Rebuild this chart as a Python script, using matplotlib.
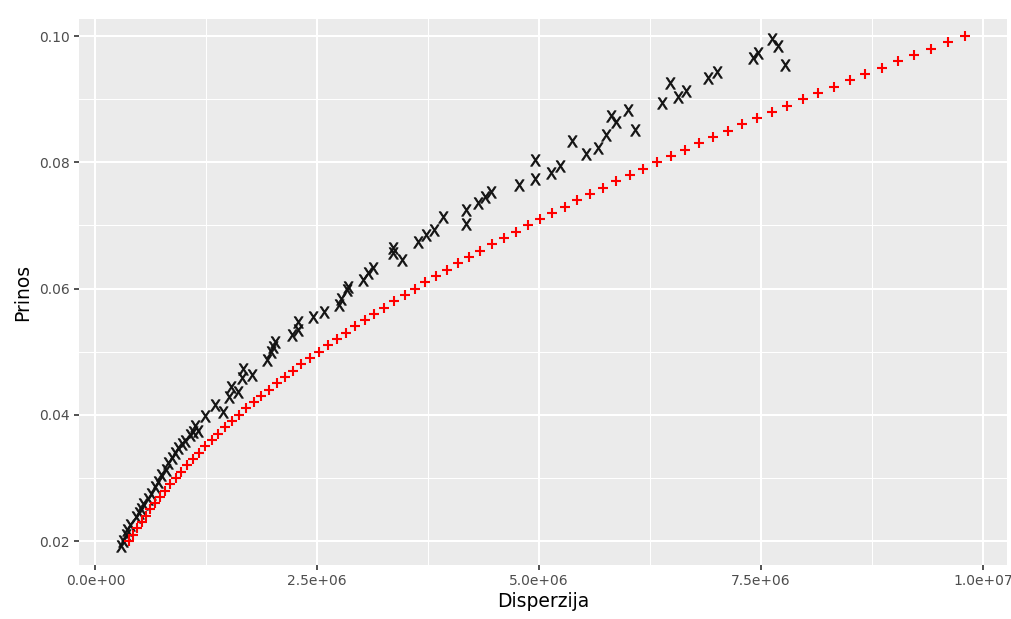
import matplotlib
matplotlib.use("Agg")
import matplotlib.pyplot as plt
import numpy as np
from matplotlib.ticker import FixedLocator

# ---- data (variance in millions, return) ----
# efficient frontier (red +)
frontier_ret = [0.020, 0.021, 0.022, 0.023, 0.024, 0.025, 0.026, 0.027, 0.028, 0.029,
                0.030, 0.031, 0.032, 0.033, 0.034, 0.035, 0.036, 0.037, 0.038, 0.039,
                0.040, 0.041, 0.042, 0.043, 0.044, 0.045, 0.046, 0.047, 0.048, 0.049,
                0.050, 0.051, 0.052, 0.053, 0.054, 0.055, 0.056, 0.057, 0.058, 0.059,
                0.060, 0.061, 0.062, 0.063, 0.064, 0.065, 0.066, 0.067, 0.068, 0.069,
                0.070, 0.071, 0.072, 0.073, 0.074, 0.075, 0.076, 0.077, 0.078, 0.079,
                0.080, 0.081, 0.082, 0.083, 0.084, 0.085, 0.086, 0.087, 0.088, 0.089,
                0.090, 0.091, 0.092, 0.093, 0.094, 0.095, 0.096, 0.097, 0.098, 0.099,
                0.100]
frontier_var_m = [0.380, 0.425, 0.471, 0.519, 0.568, 0.620, 0.673, 0.729, 0.786, 0.845,
                  0.906, 0.969, 1.033, 1.100, 1.168, 1.238, 1.311, 1.385, 1.460, 1.538,
                  1.618, 1.699, 1.782, 1.867, 1.954, 2.043, 2.134, 2.227, 2.321, 2.417,
                  2.516, 2.616, 2.717, 2.821, 2.927, 3.034, 3.144, 3.255, 3.368, 3.483,
                  3.600, 3.718, 3.839, 3.961, 4.085, 4.212, 4.339, 4.469, 4.601, 4.735,
                  4.870, 5.007, 5.146, 5.287, 5.430, 5.575, 5.721, 5.870, 6.020, 6.172,
                  6.326, 6.482, 6.640, 6.800, 6.961, 7.125, 7.290, 7.457, 7.626, 7.796,
                  7.969, 8.144, 8.320, 8.498, 8.678, 8.860, 9.044, 9.230, 9.417, 9.607,
                  9.798]

# simulated portfolios (black X)
sim_var_m = [0.29, 0.31, 0.34, 0.36, 0.39, 0.46, 0.49, 0.51, 0.54, 0.59,
             0.63, 0.67, 0.70, 0.74, 0.79, 0.82, 0.86, 0.90, 0.93, 0.97,
             1.01, 1.06, 1.10, 1.12, 1.16, 1.23, 1.35, 1.44, 1.50, 1.53,
             1.61, 1.65, 1.66, 1.76, 1.93, 1.98, 2.00, 2.02, 2.21, 2.28,
             2.28, 2.45, 2.58, 2.74, 2.77, 2.83, 2.85, 3.02, 3.07, 3.13,
             3.35, 3.35, 3.45, 3.64, 3.73, 3.82, 3.92, 4.18, 4.18, 4.31,
             4.39, 4.46, 4.77, 4.95, 4.95, 5.13, 5.24, 5.37, 5.53, 5.66,
             5.75, 5.81, 5.87, 6.00, 6.08, 6.38, 6.48, 6.56, 6.66, 6.90,
             7.00, 7.41, 7.47, 7.63, 7.69, 7.77]
sim_ret = [0.0192, 0.0200, 0.0209, 0.0217, 0.0225, 0.0238, 0.0245, 0.0251, 0.0259, 0.0267,
           0.0275, 0.0286, 0.0294, 0.0304, 0.0312, 0.0324, 0.0332, 0.0339, 0.0347, 0.0353,
           0.0359, 0.0368, 0.0372, 0.0383, 0.0375, 0.0398, 0.0415, 0.0405, 0.0428, 0.0444,
           0.0436, 0.0458, 0.0472, 0.0463, 0.0487, 0.0500, 0.0508, 0.0516, 0.0526, 0.0534,
           0.0547, 0.0555, 0.0563, 0.0574, 0.0584, 0.0598, 0.0603, 0.0614, 0.0624, 0.0633,
           0.0664, 0.0656, 0.0645, 0.0674, 0.0685, 0.0693, 0.0714, 0.0724, 0.0703, 0.0735,
           0.0745, 0.0753, 0.0764, 0.0774, 0.0803, 0.0783, 0.0794, 0.0834, 0.0813, 0.0822,
           0.0843, 0.0873, 0.0864, 0.0883, 0.0852, 0.0894, 0.0925, 0.0903, 0.0913, 0.0933,
           0.0943, 0.0965, 0.0974, 0.0995, 0.0984, 0.0955]

x_ticks = [0.0, 2.5e6, 5.0e6, 7.5e6, 1.0e7]
x_tick_labels = ["0.0e+00", "2.5e+06", "5.0e+06", "7.5e+06", "1.0e+07"]
y_ticks = [0.02, 0.04, 0.06, 0.08, 0.10]
y_tick_labels = ["0.02", "0.04", "0.06", "0.08", "0.10"]
x_label = "Disperzija"
y_label = "Prinos"

plt.rcParams['font.family'] = ['DejaVu Sans']

fig = plt.figure(figsize=(10.12, 6.19), dpi=100)
# panel spans roughly x 79..1007 px, y 19..565 px
ax = fig.add_axes([0.0781, 0.0872, 0.917, 0.882])
ax.set_facecolor('#EBEBEB')
for s in ax.spines.values():
    s.set_visible(False)

fx = np.array(frontier_var_m) * 1e6
sx = np.array(sim_var_m) * 1e6

ax.scatter(sx, sim_ret, marker=r'$\mathsf{X}$', s=68, color='#111111',
           linewidths=0.55, edgecolors='#111111', zorder=3)
ax.scatter(fx, frontier_ret, marker='+', s=50, color='#FF0000',
           linewidths=1.5, zorder=4)

# x: ggplot-like 5% expansion
allx = np.concatenate([fx, sx])
xr = allx.max() - allx.min()
ax.set_xlim(allx.min() - 0.05 * xr, allx.max() + 0.05 * xr)
ax.set_ylim(0.0162, 0.1027)

ax.set_xticks(x_ticks)
ax.set_xticklabels(x_tick_labels)
ax.set_yticks(y_ticks)
ax.set_yticklabels(y_tick_labels)
ax.xaxis.set_minor_locator(FixedLocator([(a + b) / 2 for a, b in zip(x_ticks[:-1], x_ticks[1:])]))
ax.yaxis.set_minor_locator(FixedLocator([(a + b) / 2 for a, b in zip(y_ticks[:-1], y_ticks[1:])]))

ax.grid(which='major', color='white', linewidth=1.45)
ax.grid(which='minor', color='white', linewidth=0.75)
ax.set_axisbelow(True)

ax.tick_params(axis='both', which='major', length=3.6, width=1.2, color='#333333',
               labelsize=10.0, labelcolor='#4D4D4D', pad=3)
ax.tick_params(axis='both', which='minor', length=0)

ax.set_xlabel(x_label, fontsize=13.5, color='black', labelpad=3)
ax.set_ylabel(y_label, fontsize=13.5, color='black', labelpad=5)

fig.savefig('out.png', dpi=100)
